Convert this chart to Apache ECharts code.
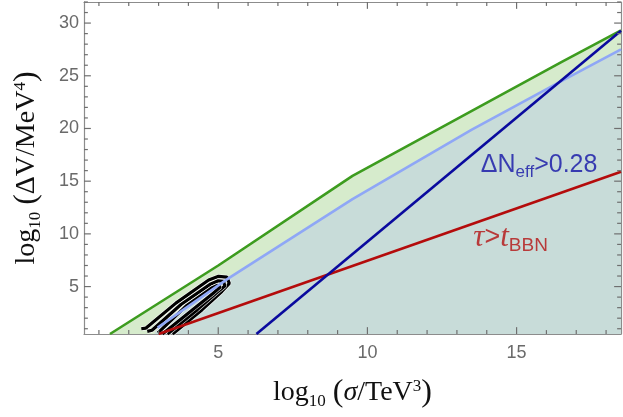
<!DOCTYPE html>
<html><head><meta charset="utf-8">
<script src="https://cdn.jsdelivr.net/npm/echarts@6/dist/echarts.min.js"></script>
<style>html,body{margin:0;padding:0;background:#fff}#c{width:623px;height:417px}</style>
</head><body><div id="c"></div>
<script>
// ---- data (axis units: log10 sigma/TeV^3 , log10 DeltaV/MeV^4) ----
const xRange = [0.5, 18.5];
const yRange = [0.5, 32];
const xMajorTicks = [5, 10, 15];
const yMajorTicks = [5, 10, 15, 20, 25, 30];
const xMinorTicks = [1,2,3,4,6,7,8,9,11,12,13,14,16,17,18];
const yMinorTicks = [1,2,3,4,6,7,8,9,11,12,13,14,16,17,18,19,21,22,23,24,26,27,28,29,31,32];

const greenLine = [[1.37,0.5],[5.0,7.0],[9.5,15.5],[16.5,26.3],[18.5,29.3]];
const lightBlueLine = [[2.97,1.1],[5.34,5.78],[9.5,13.3],[13.5,19.9],[16.5,24.5],[18.5,27.5]];
const lightBlueFillStart = [2.85,0.5];
const redLine = [[3.0,0.5],[18.5,15.9]];
const darkBlueLine = [[6.28,0.5],[18.5,29.27]];

const contourOuter = [[2.42,1.0],[2.58,1.06],[3.58,3.43],[4.68,5.62],[5.01,5.97],[5.29,5.9],[5.37,5.31],[5.12,4.53],[4.46,2.81],[3.47,0.5]];
const contourMiddle = [[2.62,0.75],[2.78,0.85],[3.75,3.3],[4.75,5.25],[5.0,5.55],[5.18,5.5],[5.22,5.05],[4.96,4.45],[4.3,2.81],[3.3,0.5]];
const contourInner = [[2.98,0.6],[3.92,3.15],[4.8,4.9],[4.98,5.12],[5.07,4.95],[4.82,4.35],[4.14,2.81],[3.13,0.5]];

const labelNeff = [13.8, 15.05];
const labelTau = [13.55, 8.0];

// ---- chart ----
const chart = echarts.init(document.getElementById('c'), null, {renderer:'canvas'});
const frameColor = '#8c8c8c';
const tickColor = '#6f6f6f';
const tickLabelStyle = {color:'#6a6a6a', fontSize:18, fontFamily:'Liberation Sans, Arial, sans-serif'};

function mkX(pos, label, extra) {
  return Object.assign({
    type:'value', min:xRange[0], max:xRange[1], position:pos,
    axisLine:{show:true, onZero:false, lineStyle:{color:frameColor, width:1.2}},
    axisTick:{show:false},
    axisLabel: label ? Object.assign({show:true, customValues:xMajorTicks, margin:10}, tickLabelStyle) : {show:false},
    splitLine:{show:false}
  }, extra||{});
}
function mkY(pos, label, extra) {
  return Object.assign({
    type:'value', min:yRange[0], max:yRange[1], position:pos,
    axisLine:{show:true, onZero:false, lineStyle:{color:frameColor, width:1.2}},
    axisTick:{show:false},
    axisLabel: label ? Object.assign({show:true, customValues:yMajorTicks, margin:5}, tickLabelStyle) : {show:false},
    splitLine:{show:false}
  }, extra||{});
}

const serif = 'Liberation Serif, Times New Roman, serif';
const nameRich = {
  a:{fontFamily:serif, fontSize:28, lineHeight:38, color:'#111'},
  i:{fontFamily:serif, fontSize:28, lineHeight:38, color:'#111', fontStyle:'italic'},
  p:{fontFamily:serif, fontSize:32, lineHeight:38, color:'#111'},
  sub:{fontFamily:serif, fontSize:17, lineHeight:17, color:'#111', verticalAlign:'bottom', padding:[0,0,2,0]},
  sup:{fontFamily:serif, fontSize:17, lineHeight:17, color:'#111', verticalAlign:'top', padding:[4,0,0,0]}
};

const xName = '{a|log}{sub|10}{a| }{p|(}{i|σ}{a|/TeV}{sup|3}{p|)}';
const yName = '{a|log}{sub|10}{a| }{p|(}{a|ΔV/MeV}{sup|4}{p|)}';

function lineSeries(data, color, width, z, area) {
  const s = {type:'line', data:data, xAxisIndex:0, yAxisIndex:0, symbol:'none', silent:true, z:z,
    lineStyle:{color:color, width:width}, animation:false};
  if (area) s.areaStyle = {color:area, opacity:1, origin:'start'};
  return s;
}

const contourSeries = [];
[contourOuter, contourMiddle, contourInner].forEach(function(c, i){
  contourSeries.push(lineSeries(c, 'rgba(255,255,255,0.9)', 4.4, 10+i*2));
  contourSeries.push(lineSeries(c, '#000', 3.2, 11+i*2));
});

// frame ticks (inside, on all four sides): short segments drawn as line series in data units
function tickSeg(points) {
  return {type:'line', data:points, xAxisIndex:0, yAxisIndex:0, symbol:'none', silent:true, z:90,
    animation:false, clip:false, lineStyle:{color:tickColor, width:1.2}};
}
const xTickLenMajor = 0.65, xTickLenMinor = 0.37;   // in y units (~7px / ~4px)
const yTickLenMajor = 0.23, yTickLenMinor = 0.13;   // in x units (~7px / ~4px)
const tickSeries = [];
function pushX(v, len) {
  tickSeries.push(tickSeg([[v, yRange[0]], [v, yRange[0]+len]]));
  tickSeries.push(tickSeg([[v, yRange[1]], [v, yRange[1]-len]]));
}
function pushY(v, len) {
  tickSeries.push(tickSeg([[xRange[0], v], [xRange[0]+len, v]]));
  tickSeries.push(tickSeg([[xRange[1], v], [xRange[1]-len, v]]));
}
xMajorTicks.forEach(v => pushX(v, xTickLenMajor));
xMinorTicks.forEach(v => pushX(v, xTickLenMinor));
yMajorTicks.forEach(v => pushY(v, yTickLenMajor));
yMinorTicks.forEach(v => pushY(v, yTickLenMinor));

const option = {
  animation:false,
  grid:{left:77, right:2, top:2, bottom:81, containLabel:false},
  xAxis:[
    mkX('bottom', true, {
      name:xName, nameLocation:'middle', nameGap:40,
      nameTextStyle:{rich:nameRich}
    }),
    mkX('top', false)
  ],
  yAxis:[
    mkY('left', true, {
      name:yName, nameLocation:'middle', nameGap:38, nameRotate:90,
      nameTextStyle:{rich:nameRich}
    }),
    mkY('right', false)
  ],
  series:[
    lineSeries(greenLine, '#3d9c1f', 0, 1, '#d6ebcc'),
    lineSeries([lightBlueFillStart].concat(lightBlueLine), 'rgba(0,0,0,0)', 0, 2, '#c8dcd9'),
    lineSeries(greenLine, '#3d9c1f', 2.6, 5),
    lineSeries(redLine, '#b40c0c', 2.6, 30),
    lineSeries(darkBlueLine, '#0a0a9e', 2.6, 31),
    lineSeries(lightBlueLine, '#8fa7f6', 2.6, 20)
  ].concat(contourSeries).concat(tickSeries).concat([
    {type:'scatter', data:[labelNeff], symbolSize:0, silent:true, z:40, animation:false,
     label:{show:true, position:[0,0], align:'left', verticalAlign:'bottom',
       formatter:'{m|ΔN}{s|eff}{m|>0.28}',
       rich:{
         m:{fontFamily:'Liberation Sans, Arial, sans-serif', fontSize:25, lineHeight:32, color:'#1313a6'},
         s:{fontFamily:'Liberation Sans, Arial, sans-serif', fontSize:17, lineHeight:17, color:'#1313a6', verticalAlign:'bottom'}
       }}},
    {type:'scatter', data:[labelTau], symbolSize:0, silent:true, z:40, animation:false,
     label:{show:true, position:[0,0], align:'left', verticalAlign:'bottom',
       formatter:'{t|τ}{g|>}{t|t}{s|BBN}',
       rich:{
         t:{fontFamily:serif, fontStyle:'italic', fontSize:31, lineHeight:34, color:'#b41111'},
         g:{fontFamily:'Liberation Sans, Arial, sans-serif', fontSize:27, lineHeight:34, color:'#b41111'},
         s:{fontFamily:'Liberation Sans, Arial, sans-serif', fontSize:19, lineHeight:19, color:'#b41111', verticalAlign:'bottom'}
       }}}
  ])
};
chart.setOption(option);
</script></body></html>
